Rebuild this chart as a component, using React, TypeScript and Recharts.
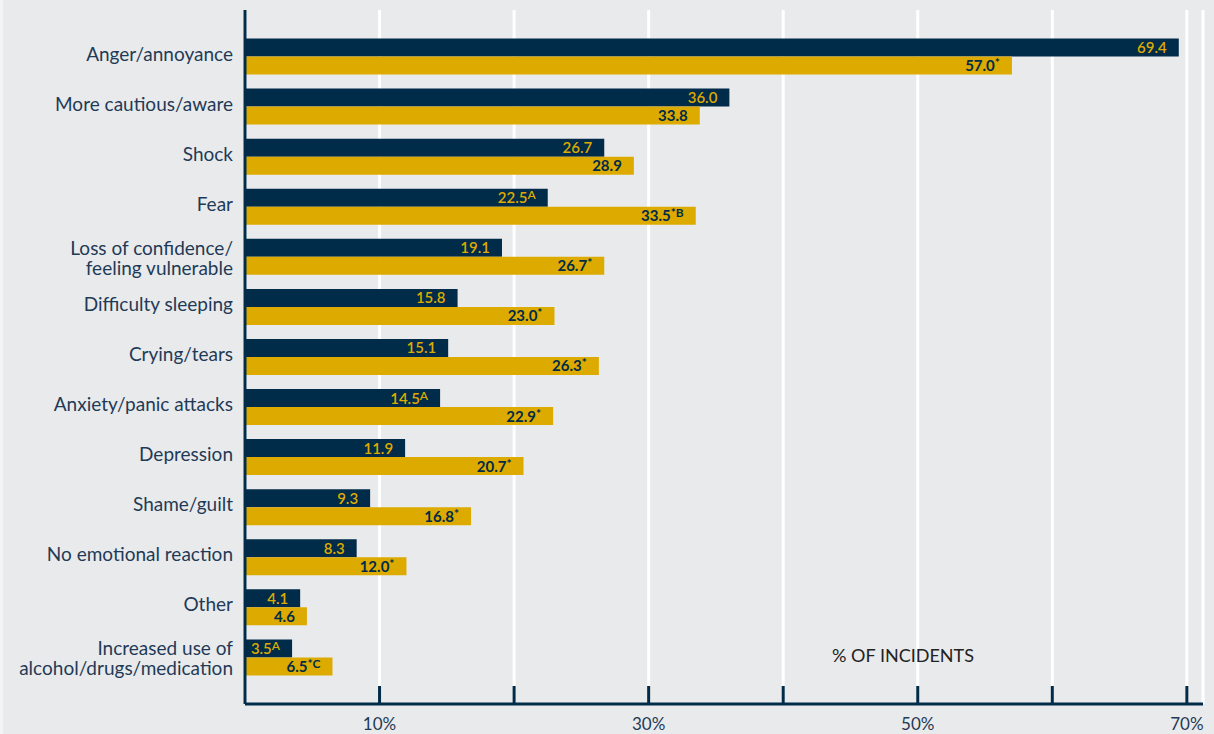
import React from "react";
import { BarChart, Bar, XAxis, YAxis, CartesianGrid, LabelList } from "recharts";

const categories = [
  "Anger/annoyance",
  "More cautious/aware",
  "Shock",
  "Fear",
  "Loss of confidence/\nfeeling vulnerable",
  "Difficulty sleeping",
  "Crying/tears",
  "Anxiety/panic attacks",
  "Depression",
  "Shame/guilt",
  "No emotional reaction",
  "Other",
  "Increased use of\nalcohol/drugs/medication",
];
const navyValues = [69.4, 36.0, 26.7, 22.5, 19.1, 15.8, 15.1, 14.5, 11.9, 9.3, 8.3, 4.1, 3.5];
const goldValues = [57.0, 33.8, 28.9, 33.5, 26.7, 23.0, 26.3, 22.9, 20.7, 16.8, 12.0, 4.6, 6.5];
const navyNotes = ["", "", "", "A", "", "", "", "A", "", "", "", "", "A"];
const goldNotes = ["*", "", "", "*B", "*", "*", "*", "*", "*", "*", "*", "", "*C"];
const xTicks = [0, 10, 20, 30, 40, 50, 60, 70];
const xTickLabels = ["", "10%", "", "30%", "", "50%", "", "70%"];
const axisTitle = "% OF INCIDENTS";

const NAVY = "#002b49";
const GOLD = "#ddaa00";
const TEXT = "#1f3a56";
const FONT = "Lato, 'Open Sans', sans-serif";

const data = categories.map((name, i) => ({
  name,
  a: navyValues[i],
  b: goldValues[i],
  na: navyNotes[i],
  nb: goldNotes[i],
}));

const YTick = (props: any) => {
  const { x, y, payload } = props;
  const lines = String(payload.value).split("\n");
  const startY = lines.length === 1 ? y + 4 : y - 2;
  return (
    <text x={x} y={startY} textAnchor="end" fontFamily={FONT} fontSize={19} fill={TEXT}>
      {lines.map((l, i) => (
        <tspan key={i} x={x} dy={i === 0 ? 0 : 20}>
          {l}
        </tspan>
      ))}
    </text>
  );
};

const XTick = (props: any) => {
  const { x, y, payload } = props;
  const label = xTickLabels[xTicks.indexOf(payload.value)] ?? "";
  return (
    <g>
      {payload.value !== 0 && (
        <line x1={x} x2={x} y1={y - 18} y2={y} stroke={NAVY} strokeWidth={3} />
      )}
      {label && (
        <text x={x} y={y + 26} textAnchor="middle" fontFamily={FONT} fontSize={17} fill={TEXT}>
          {label}
        </text>
      )}
    </g>
  );
};

const makeLabel = (key: "na" | "nb", color: string, weight: number) => (props: any) => {
  const { x, y, width, height, value, index } = props;
  const note = data[index][key];
  return (
    <text
      x={x + width - 12}
      y={y + height / 2 + 5.5}
      textAnchor="end"
      fontFamily={FONT}
      fontSize={15}
      fontWeight={weight}
      fill={color}
    >
      <tspan>{Number(value).toFixed(1)}</tspan>
      {note && (
        <tspan fontSize={12} dy={-4}>
          {note}
        </tspan>
      )}
    </text>
  );
};

export default function App() {
  return (
    <div
      style={{
        position: "absolute",
        left: 0,
        top: 0,
        width: 1214,
        height: 734,
        background: "linear-gradient(to right, #f3f4f5 0px, #f3f4f5 3px, #e9eaec 3px)",
      }}
    >
      <BarChart
        width={1214}
        height={734}
        data={data}
        layout="vertical"
        margin={{ top: 10, right: 11, bottom: 0, left: 0 }}
        barGap={0}
        barSize={18}
      >
        <CartesianGrid horizontal={false} vertical={true} stroke="#ffffff" strokeWidth={3} />
        <XAxis
          type="number"
          domain={[0, 71.2]}
          ticks={xTicks}
          height={30}
          tickSize={0}
          tickMargin={0}
          tickLine={false}
          axisLine={{ stroke: NAVY, strokeWidth: 3 }}
          tick={<XTick />}
          interval={0}
        />
        <YAxis
          type="category"
          dataKey="name"
          width={245}
          tickSize={0}
          tickMargin={12}
          tickLine={false}
          axisLine={{ stroke: NAVY, strokeWidth: 3 }}
          padding={{ top: 21.5, bottom: 21.5 }}
          interval={0}
          tick={<YTick />}
        />
        <Bar dataKey="a" fill={NAVY} isAnimationActive={false}>
          <LabelList dataKey="a" content={makeLabel("na", GOLD, 600)} />
        </Bar>
        <Bar dataKey="b" fill={GOLD} isAnimationActive={false}>
          <LabelList dataKey="b" content={makeLabel("nb", NAVY, 700)} />
        </Bar>
        <text x={903} y={662} textAnchor="middle" fontFamily={FONT} fontSize={18} fill="#222222">
          {axisTitle}
        </text>
      </BarChart>
    </div>
  );
}
